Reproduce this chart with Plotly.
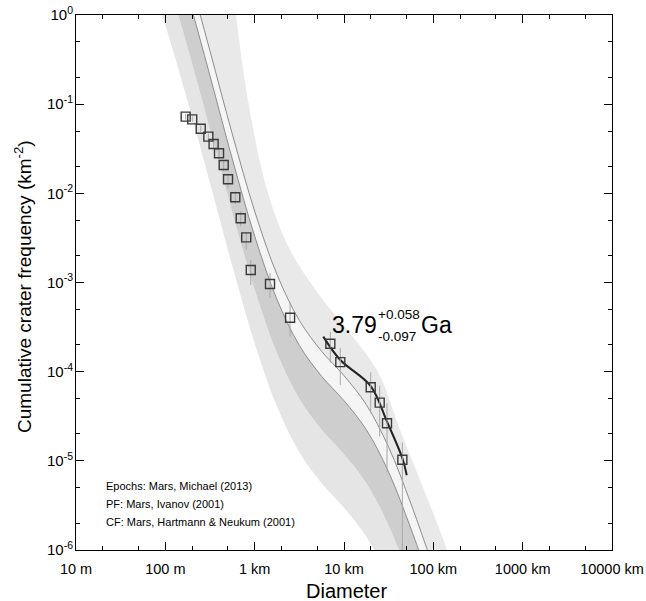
import plotly.graph_objects as go

# crater data (diameter km, cumulative frequency km^-2)
diam = [0.169, 0.200, 0.249, 0.303, 0.347, 0.399, 0.450, 0.503, 0.607, 0.698,
        0.805, 0.904, 1.485, 2.49, 7.03, 9.09, 19.9, 25.1, 30.3, 45.0]
freq = [0.0724, 0.0676, 0.0531, 0.0432, 0.0357, 0.0281, 0.0208, 0.01436, 0.00903, 0.00525,
        0.00321, 0.00138, 0.000962, 0.000403, 0.000206, 0.000128, 6.68e-5, 4.49e-5, 2.64e-5, 1.03e-5]
freq_hi = [0.0782, 0.0730, 0.0573, 0.0467, 0.0396, 0.0312, 0.0231, 0.01634, 0.01055, 0.00629,
           0.00365, 0.00179, 0.00128, 0.000594, 0.000281, 0.000184, 9.84e-5, 6.96e-5, 4.42e-5, 1.60e-5]
freq_lo = [0.0670, 0.0626, 0.0492, 0.0390, 0.0322, 0.0247, 0.0178, 0.01139, 0.00754, 0.00427,
           0.00235, 0.000937, 0.000671, 0.000247, 0.000126, 7.07e-5, 3.41e-5, 1.87e-5, 7.45e-6, 5e-7]

# fitted isochron (3.79 Ga)
fit_diam = [5.86, 9.10, 19.9, 30.3, 45.0, 50.4]
fit_freq = [2.47e-4, 1.35e-4, 6.9e-5, 2.75e-5, 1.07e-5, 6.9e-6]

# production-function shape (log D -> log N, relative)
pf_logD = [-1.5, -1.25, -1.0, -0.75, -0.5, -0.25, 0.0, 0.25, 0.5, 0.75, 1.0, 1.25, 1.5, 1.75, 2.0, 2.25, 2.5]
pf_logN = [5.162, 4.371, 3.567, 2.712, 1.796, 0.864, 0.0, -0.711, -1.225, -1.572, -1.845, -2.171,
           -2.647, -3.283, -3.979, -4.577, -4.993]

# epoch isochron offsets (log N shift of the PF)
iso_left_edge = -3.68
iso_light_dark = -3.08
iso_line1 = -2.48
iso_line2 = -2.20

# outer envelope on the right side
env_diam = [0.557, 0.618, 0.841, 1.41, 2.49, 5.82, 10.3, 24.0, 42.4, 71.0, 142, 175]
env_freq = [2.5, 1.0, 0.111, 0.0101, 0.00232, 6.37e-4, 3.17e-4, 9.9e-5, 2.22e-5, 6.1e-6, 1.0e-6, 4.6e-7]

x_tickvals = [0.01, 0.1, 1, 10, 100, 1000, 10000]
x_ticktext = ["10 m", "100 m", "1 km", "10 km", "100 km", "1000 km", "10000 km"]
y_tickvals = [1e-6, 1e-5, 1e-4, 1e-3, 1e-2, 1e-1, 1]
y_ticktext = ["10<sup>-6</sup>", "10<sup>-5</sup>", "10<sup>-4</sup>", "10<sup>-3</sup>",
              "10<sup>-2</sup>", "10<sup>-1</sup>", "10<sup>0</sup>"]

fig = go.Figure()

pfD = [10 ** v for v in pf_logD]


def iso(c):
    return [10 ** (v + c) for v in pf_logN]


def band(xa, ya, xb, yb, col):
    fig.add_trace(go.Scatter(x=list(xa) + list(xb)[::-1], y=list(ya) + list(yb)[::-1],
                             fill="toself", fillcolor=col,
                             line=dict(width=0, shape="spline", simplify=False),
                             mode="lines", hoverinfo="skip", showlegend=False))


# right light band (between the line1 isochron and the envelope)
band(pfD, iso(iso_line1), env_diam, env_freq, "#e9e9e9")
# left light band
band(pfD, iso(iso_left_edge), pfD, iso(iso_light_dark), "#e5e5e5")
# dark band
band(pfD, iso(iso_light_dark), pfD, iso(iso_line1), "#cecece")
# whitish band between the two lines
band(pfD, iso(iso_line1), pfD, iso(iso_line2), "#f5f5f5")

for c in (iso_line1, iso_line2):
    fig.add_trace(go.Scatter(x=pfD, y=iso(c), mode="lines",
                             line=dict(color="#8c8c8c", width=1, shape="spline", simplify=False),
                             hoverinfo="skip", showlegend=False))

fig.add_trace(go.Scatter(x=fit_diam, y=fit_freq, mode="lines",
                         line=dict(color="#222222", width=2, shape="spline"),
                         hoverinfo="skip", showlegend=False))

fig.add_trace(go.Scatter(
    x=diam, y=freq, mode="markers",
    marker=dict(symbol="square-open", size=9, color="#3a3a3a", line=dict(width=1.4)),
    error_y=dict(type="data", symmetric=False,
                 array=[h - n for h, n in zip(freq_hi, freq)],
                 arrayminus=[n - l for n, l in zip(freq, freq_lo)],
                 color="#a8a8a8", thickness=1, width=0),
    hoverinfo="skip", showlegend=False))

font = "Liberation Sans, Arial, sans-serif"
# plot box on screen: x 76..612, y 15..550
L, T, W, H = 76, 15, 536, 535
fig.update_layout(
    width=646, height=601,
    margin=dict(l=L, r=646 - L - W, t=T, b=601 - T - H, autoexpand=False),
    paper_bgcolor="white", plot_bgcolor="white",
    font=dict(family=font, color="black"),
    xaxis=dict(type="log", range=[-2, 4], tickvals=x_tickvals, ticktext=x_ticktext,
               ticks="inside", ticklen=8, tickcolor="black", showgrid=False, zeroline=False,
               showline=True, linecolor="black", linewidth=1, mirror="allticks",
               automargin=False, tickfont=dict(size=14.5), ticklabelstandoff=6,
               minor=dict(ticks="inside", ticklen=4, tickcolor="black", showgrid=False)),
    yaxis=dict(type="log", range=[-6, 0], tickvals=y_tickvals, ticktext=y_ticktext,
               ticks="inside", ticklen=8, tickcolor="black", showgrid=False, zeroline=False,
               showline=True, linecolor="black", linewidth=1, mirror="allticks",
               automargin=False, tickfont=dict(size=15), ticklabelstandoff=-1,
               minor=dict(ticks="inside", ticklen=4, tickcolor="black", showgrid=False)),
)


def px_ann(px, py, text, size, anchor="center", angle=0):
    fig.add_annotation(x=(px - L) / W, y=1 - (py - T) / H, xref="paper", yref="paper",
                       text=text, showarrow=False, textangle=angle,
                       font=dict(size=size, family=font, color="black"),
                       xanchor=anchor, yanchor="middle")


px_ann(354, 325, "3.79", 23)
px_ann(376, 314, "+0.058", 13.5, "left")
px_ann(376, 336, "-0.097", 13.5, "left")
px_ann(419, 325, "Ga", 23, "left")
px_ann(104, 486, "Epochs: Mars, Michael (2013)", 11, "left")
px_ann(104, 504, "PF: Mars, Ivanov (2001)", 11, "left")
px_ann(104, 522, "CF: Mars, Hartmann &amp; Neukum (2001)", 11, "left")
px_ann(346, 591, "Diameter", 20)
px_ann(23, 287, "Cumulative crater frequency (km<sup>-2</sup>)", 19, angle=-90)

# remove the browser's default 8 px body margin so the figure fills the window exactly
fig.write_html("out.html", config={"displayModeBar": False},
               post_script="document.body.style.margin='0';document.body.style.overflow='hidden';")
